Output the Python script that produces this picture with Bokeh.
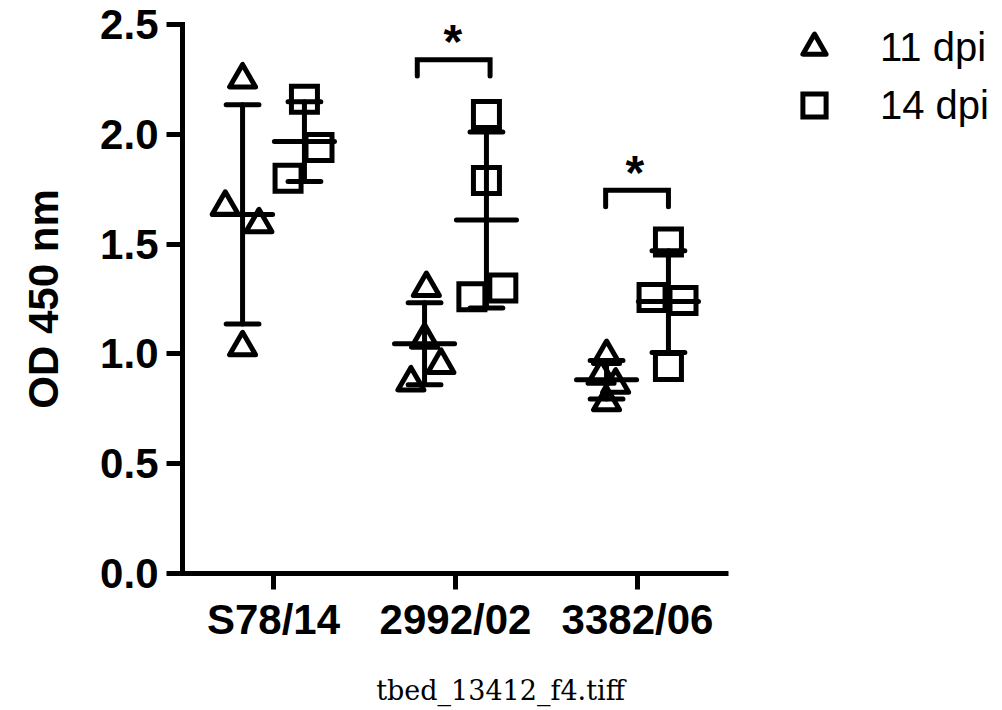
import numpy as np
from bokeh.plotting import figure
from bokeh.models import (ColumnDataSource, Range1d, Legend, LegendItem,
                          Label, FixedTicker, NumeralTickFormatter)
from bokeh.core.properties import value
from bokeh.embed import file_html
from bokeh.resources import INLINE

# ---------------- data ----------------
strains = ["S78/14", "2992/02", "3382/06"]
series = ["11 dpi", "14 dpi"]

od_11dpi_S78_14 = [2.25, 1.67, 1.59, 1.03]
od_11dpi_2992_02 = [1.30, 1.065, 0.95, 0.87]
od_11dpi_3382_06 = [0.99, 0.90, 0.86, 0.78]

od_14dpi_S78_14 = [2.16, 1.94, 1.80]
od_14dpi_2992_02 = [2.09, 1.79, 1.26, 1.30]
od_14dpi_3382_06 = [1.51, 1.257, 1.243, 0.943]

y_ticks = [0.0, 0.5, 1.0, 1.5, 2.0, 2.5]
y_label = "OD 450 nm"
caption = "tbed_13412_f4.tiff"

sig_strains = ["2992/02", "3382/06"]
sig_levels = [2.34, 1.745]
sig_text = "*"

# ---------------- layout (positions / styles) ----------------
series_offset = {"11 dpi": -0.17, "14 dpi": 0.17}
jitter = {
    "11 dpi": [[0.0, -0.095, 0.09, 0.0], [0.01, 0.0, 0.09, -0.075], [0.0, -0.03, 0.05, 0.0]],
    "14 dpi": [[0.0, 0.08, -0.09], [0.0, 0.0, -0.08, 0.09], [0.0, -0.09, 0.08, 0.0]],
}
bracket_offsets = [(-0.21, 0.19), (-0.175, 0.17)]
bracket_leg = 0.075
mean_half = 0.165
cap_half = 0.09

data = {
    "11 dpi": [od_11dpi_S78_14, od_11dpi_2992_02, od_11dpi_3382_06],
    "14 dpi": [od_14dpi_S78_14, od_14dpi_2992_02, od_14dpi_3382_06],
}
markers = {"11 dpi": "triangle", "14 dpi": "square"}
joins = {"11 dpi": "round", "14 dpi": "miter"}

FONT = "Liberation Sans"
LW = 5

W, H = 1002, 710
AX_LEFT_PX, AX_BOTTOM_PX = 182, 573   # where the axes sit on the page
PX_PER_CAT = 182                      # px per category
PX_PER_UNIT = 549 / 2.5               # px per OD unit
cat_pos = {s: i + 1 for i, s in enumerate(strains)}
x_axis_start = 0.5
x_start = x_axis_start - AX_LEFT_PX / PX_PER_CAT
x_end = x_axis_start + (W - AX_LEFT_PX) / PX_PER_CAT
y_start = -(H - AX_BOTTOM_PX) / PX_PER_UNIT
y_end = AX_BOTTOM_PX / PX_PER_UNIT
y_max = y_ticks[-1]

p = figure(width=W, height=H,
           x_range=Range1d(x_start, x_end),
           y_range=Range1d(y_start, y_end),
           output_backend="svg", toolbar_location=None,
           min_border_left=0, min_border_right=0,
           min_border_top=0, min_border_bottom=0)
p.outline_line_color = None
p.xgrid.visible = False
p.ygrid.visible = False
p.background_fill_color = "white"
p.border_fill_color = "white"

# error bars (mean ± SD) computed from the data
for s in series:
    x0, y0, x1, y1 = [], [], [], []
    for i, strain in enumerate(strains):
        vals = np.array(data[s][i])
        m = vals.mean()
        sd = vals.std(ddof=1)
        c = cat_pos[strain] + series_offset[s]
        x0.append(c); x1.append(c); y0.append(m - sd); y1.append(m + sd)
        x0.append(c - mean_half); x1.append(c + mean_half); y0.append(m); y1.append(m)
        for yy in (m - sd, m + sd):
            x0.append(c - cap_half); x1.append(c + cap_half); y0.append(yy); y1.append(yy)
    src = ColumnDataSource(dict(x0=x0, y0=y0, x1=x1, y1=y1))
    p.segment("x0", "y0", "x1", "y1", source=src, line_color="black",
              line_width=LW, line_cap="round")

# individual points
renderers = {}
for s in series:
    xs, ys = [], []
    for i, strain in enumerate(strains):
        for v, j in zip(data[s][i], jitter[s][i]):
            xs.append(cat_pos[strain] + series_offset[s] + j)
            ys.append(v)
    src = ColumnDataSource(dict(x=xs, y=ys))
    renderers[s] = p.scatter("x", "y", source=src, marker=markers[s], size=26,
                             fill_alpha=0, line_color="black", line_width=LW,
                             line_join=joins[s])

# significance brackets
bx, by = [], []
for strain, lev, (lo, hi) in zip(sig_strains, sig_levels, bracket_offsets):
    c = cat_pos[strain]
    bx.append([c + lo, c + lo, c + hi, c + hi])
    by.append([lev - bracket_leg, lev, lev, lev - bracket_leg])
p.multi_line(xs=bx, ys=by, line_color="black", line_width=LW,
             line_cap="round", line_join="miter")
p.text(x=[cat_pos[s] - 0.015 for s in sig_strains], y=sig_levels,
       text=[sig_text] * len(sig_strains),
       text_font=value(FONT), text_font_style="bold", text_font_size="48px",
       text_align="center", text_baseline="alphabetic", text_color="black", y_offset=-18)

# axes (fixed at x = 0.5 and y = 0)
for ax in (p.xaxis[0], p.yaxis[0]):
    ax.axis_line_width = LW
    ax.axis_line_color = "black"
    ax.major_tick_line_width = LW
    ax.major_tick_line_color = "black"
    ax.major_tick_out = 16
    ax.major_tick_in = 0
    ax.minor_tick_out = 0
    ax.minor_tick_in = 0
    ax.major_label_text_font = FONT
    ax.major_label_text_font_style = "bold"
    ax.major_label_text_font_size = "42px"
    ax.major_label_text_color = "black"

p.xaxis.ticker = FixedTicker(ticks=[cat_pos[s] for s in strains])
p.xaxis.major_label_overrides = {cat_pos[s]: s for s in strains}
p.xaxis.bounds = (x_axis_start, len(strains) + 0.5)
p.xaxis.fixed_location = 0
p.xaxis.major_label_standoff = 6

p.yaxis.ticker = FixedTicker(ticks=y_ticks)
p.yaxis.formatter = NumeralTickFormatter(format="0.0")
p.yaxis.bounds = (0, y_max)
p.yaxis.fixed_location = x_axis_start
p.yaxis.major_label_standoff = 8
p.yaxis.axis_label = y_label
p.yaxis.axis_label_text_font = FONT
p.yaxis.axis_label_text_font_style = "bold"
p.yaxis.axis_label_text_font_size = "42px"
p.yaxis.axis_label_text_color = "black"
p.yaxis.axis_label_standoff = 30
p.yaxis.axis_line_cap = "square"

# legend (upper right)
legend = Legend(items=[LegendItem(label=s, renderers=[renderers[s]]) for s in series],
                location=(784, 576), glyph_width=60, glyph_height=58,
                label_standoff=36, padding=0, margin=0, spacing=0,
                border_line_alpha=0, background_fill_alpha=0,
                label_text_font=FONT, label_text_font_size="40px",
                label_text_color="black")
p.add_layout(legend, "center")

# caption (below the x axis)
p.add_layout(Label(x=500, y=H - 690, x_units="screen", y_units="screen", text=caption,
                   text_font="DejaVu Serif", text_font_size="27px",
                   text_align="center", text_baseline="middle", text_color="black"))

open("out.html", "w").write(file_html(p, INLINE))
